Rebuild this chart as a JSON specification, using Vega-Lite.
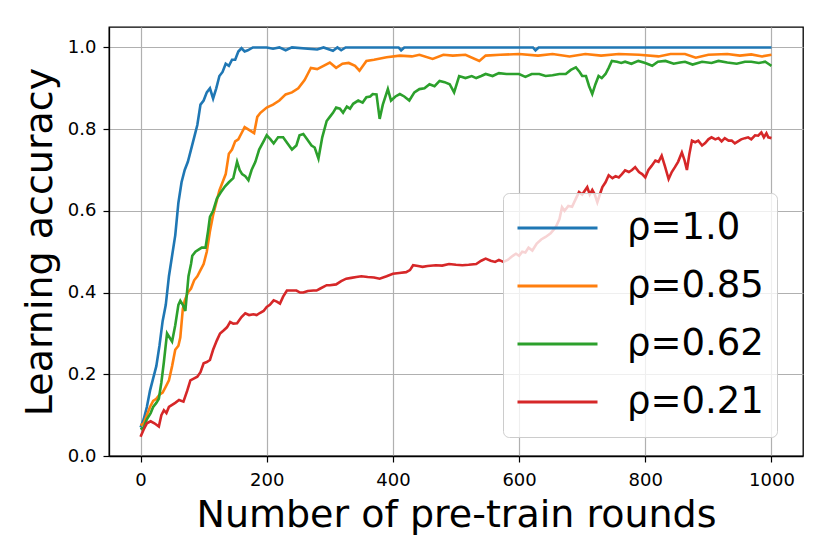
{
  "$schema": "https://vega.github.io/schema/vega-lite/v6.json",
  "autosize": {"type": "none"},
  "padding": {"left": 109, "top": 27, "right": 27, "bottom": 98},
  "width": 694,
  "height": 429,
  "background": "white",
  "view": {"stroke": "#000000", "strokeWidth": 1.3},
  "config": {
    "font": "DejaVu Sans",
    "axis": {
      "labelFont": "DejaVu Sans", "labelFontSize": 18, "labelColor": "black",
      "titleFont": "DejaVu Sans", "titleFontSize": 38, "titleFontWeight": "normal", "titleColor": "black",
      "tickColor": "black", "tickSize": 6, "tickWidth": 1.2,
      "domainColor": "black", "domainWidth": 1.3,
      "gridColor": "#b0b0b0", "gridWidth": 1.2
    }
  },
  "data": {
    "values": [
      {"series": "ρ=1.0", "round": 0, "acc": 0.07},
      {"series": "ρ=1.0", "round": 5, "acc": 0.09},
      {"series": "ρ=1.0", "round": 10, "acc": 0.12},
      {"series": "ρ=1.0", "round": 15, "acc": 0.16},
      {"series": "ρ=1.0", "round": 20, "acc": 0.19},
      {"series": "ρ=1.0", "round": 25, "acc": 0.22},
      {"series": "ρ=1.0", "round": 30, "acc": 0.27},
      {"series": "ρ=1.0", "round": 35, "acc": 0.33},
      {"series": "ρ=1.0", "round": 40, "acc": 0.37},
      {"series": "ρ=1.0", "round": 45, "acc": 0.44},
      {"series": "ρ=1.0", "round": 50, "acc": 0.49},
      {"series": "ρ=1.0", "round": 55, "acc": 0.54},
      {"series": "ρ=1.0", "round": 60, "acc": 0.62},
      {"series": "ρ=1.0", "round": 65, "acc": 0.67},
      {"series": "ρ=1.0", "round": 70, "acc": 0.70},
      {"series": "ρ=1.0", "round": 75, "acc": 0.72},
      {"series": "ρ=1.0", "round": 80, "acc": 0.75},
      {"series": "ρ=1.0", "round": 85, "acc": 0.78},
      {"series": "ρ=1.0", "round": 90, "acc": 0.81},
      {"series": "ρ=1.0", "round": 95, "acc": 0.86},
      {"series": "ρ=1.0", "round": 100, "acc": 0.87},
      {"series": "ρ=1.0", "round": 105, "acc": 0.89},
      {"series": "ρ=1.0", "round": 110, "acc": 0.90},
      {"series": "ρ=1.0", "round": 115, "acc": 0.875},
      {"series": "ρ=1.0", "round": 120, "acc": 0.90},
      {"series": "ρ=1.0", "round": 125, "acc": 0.93},
      {"series": "ρ=1.0", "round": 130, "acc": 0.94},
      {"series": "ρ=1.0", "round": 135, "acc": 0.96},
      {"series": "ρ=1.0", "round": 140, "acc": 0.955},
      {"series": "ρ=1.0", "round": 145, "acc": 0.97},
      {"series": "ρ=1.0", "round": 150, "acc": 0.97},
      {"series": "ρ=1.0", "round": 155, "acc": 0.99},
      {"series": "ρ=1.0", "round": 160, "acc": 0.998},
      {"series": "ρ=1.0", "round": 165, "acc": 0.99},
      {"series": "ρ=1.0", "round": 170, "acc": 0.993},
      {"series": "ρ=1.0", "round": 178, "acc": 1.0},
      {"series": "ρ=1.0", "round": 200, "acc": 1.0},
      {"series": "ρ=1.0", "round": 210, "acc": 0.997},
      {"series": "ρ=1.0", "round": 220, "acc": 1.0},
      {"series": "ρ=1.0", "round": 230, "acc": 0.993},
      {"series": "ρ=1.0", "round": 240, "acc": 1.0},
      {"series": "ρ=1.0", "round": 280, "acc": 0.995},
      {"series": "ρ=1.0", "round": 290, "acc": 1.0},
      {"series": "ρ=1.0", "round": 305, "acc": 0.992},
      {"series": "ρ=1.0", "round": 312, "acc": 1.0},
      {"series": "ρ=1.0", "round": 318, "acc": 0.993},
      {"series": "ρ=1.0", "round": 325, "acc": 1.0},
      {"series": "ρ=1.0", "round": 409, "acc": 1.0},
      {"series": "ρ=1.0", "round": 413, "acc": 0.993},
      {"series": "ρ=1.0", "round": 418, "acc": 1.0},
      {"series": "ρ=1.0", "round": 622, "acc": 1.0},
      {"series": "ρ=1.0", "round": 626, "acc": 0.993},
      {"series": "ρ=1.0", "round": 631, "acc": 1.0},
      {"series": "ρ=1.0", "round": 1000, "acc": 1.0},

      {"series": "ρ=0.85", "round": 0, "acc": 0.075},
      {"series": "ρ=0.85", "round": 5, "acc": 0.08},
      {"series": "ρ=0.85", "round": 10, "acc": 0.10},
      {"series": "ρ=0.85", "round": 15, "acc": 0.12},
      {"series": "ρ=0.85", "round": 20, "acc": 0.135},
      {"series": "ρ=0.85", "round": 25, "acc": 0.14},
      {"series": "ρ=0.85", "round": 30, "acc": 0.15},
      {"series": "ρ=0.85", "round": 35, "acc": 0.155},
      {"series": "ρ=0.85", "round": 40, "acc": 0.17},
      {"series": "ρ=0.85", "round": 45, "acc": 0.185},
      {"series": "ρ=0.85", "round": 50, "acc": 0.22},
      {"series": "ρ=0.85", "round": 55, "acc": 0.26},
      {"series": "ρ=0.85", "round": 60, "acc": 0.27},
      {"series": "ρ=0.85", "round": 63, "acc": 0.29},
      {"series": "ρ=0.85", "round": 67, "acc": 0.36},
      {"series": "ρ=0.85", "round": 70, "acc": 0.38},
      {"series": "ρ=0.85", "round": 75, "acc": 0.40},
      {"series": "ρ=0.85", "round": 80, "acc": 0.41},
      {"series": "ρ=0.85", "round": 85, "acc": 0.43},
      {"series": "ρ=0.85", "round": 90, "acc": 0.44},
      {"series": "ρ=0.85", "round": 95, "acc": 0.455},
      {"series": "ρ=0.85", "round": 100, "acc": 0.47},
      {"series": "ρ=0.85", "round": 105, "acc": 0.50},
      {"series": "ρ=0.85", "round": 110, "acc": 0.55},
      {"series": "ρ=0.85", "round": 115, "acc": 0.59},
      {"series": "ρ=0.85", "round": 120, "acc": 0.62},
      {"series": "ρ=0.85", "round": 125, "acc": 0.65},
      {"series": "ρ=0.85", "round": 130, "acc": 0.67},
      {"series": "ρ=0.85", "round": 135, "acc": 0.69},
      {"series": "ρ=0.85", "round": 140, "acc": 0.74},
      {"series": "ρ=0.85", "round": 145, "acc": 0.75},
      {"series": "ρ=0.85", "round": 150, "acc": 0.77},
      {"series": "ρ=0.85", "round": 155, "acc": 0.775},
      {"series": "ρ=0.85", "round": 160, "acc": 0.79},
      {"series": "ρ=0.85", "round": 165, "acc": 0.805},
      {"series": "ρ=0.85", "round": 170, "acc": 0.80},
      {"series": "ρ=0.85", "round": 175, "acc": 0.795},
      {"series": "ρ=0.85", "round": 180, "acc": 0.79},
      {"series": "ρ=0.85", "round": 185, "acc": 0.83},
      {"series": "ρ=0.85", "round": 190, "acc": 0.84},
      {"series": "ρ=0.85", "round": 200, "acc": 0.853},
      {"series": "ρ=0.85", "round": 210, "acc": 0.86},
      {"series": "ρ=0.85", "round": 220, "acc": 0.87},
      {"series": "ρ=0.85", "round": 230, "acc": 0.885},
      {"series": "ρ=0.85", "round": 240, "acc": 0.89},
      {"series": "ρ=0.85", "round": 250, "acc": 0.90},
      {"series": "ρ=0.85", "round": 260, "acc": 0.92},
      {"series": "ρ=0.85", "round": 265, "acc": 0.935},
      {"series": "ρ=0.85", "round": 270, "acc": 0.95},
      {"series": "ρ=0.85", "round": 280, "acc": 0.947},
      {"series": "ρ=0.85", "round": 290, "acc": 0.955},
      {"series": "ρ=0.85", "round": 300, "acc": 0.963},
      {"series": "ρ=0.85", "round": 310, "acc": 0.95},
      {"series": "ρ=0.85", "round": 320, "acc": 0.96},
      {"series": "ρ=0.85", "round": 330, "acc": 0.962},
      {"series": "ρ=0.85", "round": 340, "acc": 0.955},
      {"series": "ρ=0.85", "round": 347, "acc": 0.943},
      {"series": "ρ=0.85", "round": 358, "acc": 0.967},
      {"series": "ρ=0.85", "round": 370, "acc": 0.97},
      {"series": "ρ=0.85", "round": 390, "acc": 0.976},
      {"series": "ρ=0.85", "round": 411, "acc": 0.98},
      {"series": "ρ=0.85", "round": 430, "acc": 0.978},
      {"series": "ρ=0.85", "round": 442, "acc": 0.982},
      {"series": "ρ=0.85", "round": 463, "acc": 0.972},
      {"series": "ρ=0.85", "round": 480, "acc": 0.982},
      {"series": "ρ=0.85", "round": 495, "acc": 0.98},
      {"series": "ρ=0.85", "round": 515, "acc": 0.982},
      {"series": "ρ=0.85", "round": 537, "acc": 0.967},
      {"series": "ρ=0.85", "round": 547, "acc": 0.98},
      {"series": "ρ=0.85", "round": 570, "acc": 0.982},
      {"series": "ρ=0.85", "round": 600, "acc": 0.984},
      {"series": "ρ=0.85", "round": 630, "acc": 0.98},
      {"series": "ρ=0.85", "round": 653, "acc": 0.984},
      {"series": "ρ=0.85", "round": 680, "acc": 0.978},
      {"series": "ρ=0.85", "round": 705, "acc": 0.984},
      {"series": "ρ=0.85", "round": 730, "acc": 0.98},
      {"series": "ρ=0.85", "round": 758, "acc": 0.984},
      {"series": "ρ=0.85", "round": 790, "acc": 0.982},
      {"series": "ρ=0.85", "round": 821, "acc": 0.978},
      {"series": "ρ=0.85", "round": 840, "acc": 0.984},
      {"series": "ρ=0.85", "round": 863, "acc": 0.984},
      {"series": "ρ=0.85", "round": 880, "acc": 0.975},
      {"series": "ρ=0.85", "round": 900, "acc": 0.982},
      {"series": "ρ=0.85", "round": 930, "acc": 0.984},
      {"series": "ρ=0.85", "round": 950, "acc": 0.98},
      {"series": "ρ=0.85", "round": 968, "acc": 0.983},
      {"series": "ρ=0.85", "round": 985, "acc": 0.978},
      {"series": "ρ=0.85", "round": 1000, "acc": 0.982},

      {"series": "ρ=0.62", "round": 0, "acc": 0.065},
      {"series": "ρ=0.62", "round": 5, "acc": 0.07},
      {"series": "ρ=0.62", "round": 10, "acc": 0.09},
      {"series": "ρ=0.62", "round": 16, "acc": 0.105},
      {"series": "ρ=0.62", "round": 20, "acc": 0.12},
      {"series": "ρ=0.62", "round": 25, "acc": 0.13},
      {"series": "ρ=0.62", "round": 29, "acc": 0.14},
      {"series": "ρ=0.62", "round": 33, "acc": 0.18},
      {"series": "ρ=0.62", "round": 37, "acc": 0.23},
      {"series": "ρ=0.62", "round": 42, "acc": 0.30},
      {"series": "ρ=0.62", "round": 46, "acc": 0.29},
      {"series": "ρ=0.62", "round": 50, "acc": 0.28},
      {"series": "ρ=0.62", "round": 55, "acc": 0.32},
      {"series": "ρ=0.62", "round": 60, "acc": 0.37},
      {"series": "ρ=0.62", "round": 63, "acc": 0.38},
      {"series": "ρ=0.62", "round": 67, "acc": 0.37},
      {"series": "ρ=0.62", "round": 71, "acc": 0.355},
      {"series": "ρ=0.62", "round": 76, "acc": 0.44},
      {"series": "ρ=0.62", "round": 80, "acc": 0.47},
      {"series": "ρ=0.62", "round": 82, "acc": 0.49},
      {"series": "ρ=0.62", "round": 87, "acc": 0.50},
      {"series": "ρ=0.62", "round": 92, "acc": 0.505},
      {"series": "ρ=0.62", "round": 97, "acc": 0.51},
      {"series": "ρ=0.62", "round": 103, "acc": 0.51},
      {"series": "ρ=0.62", "round": 107, "acc": 0.55},
      {"series": "ρ=0.62", "round": 110, "acc": 0.585},
      {"series": "ρ=0.62", "round": 115, "acc": 0.60},
      {"series": "ρ=0.62", "round": 121, "acc": 0.63},
      {"series": "ρ=0.62", "round": 127, "acc": 0.645},
      {"series": "ρ=0.62", "round": 134, "acc": 0.66},
      {"series": "ρ=0.62", "round": 140, "acc": 0.67},
      {"series": "ρ=0.62", "round": 147, "acc": 0.68},
      {"series": "ρ=0.62", "round": 150, "acc": 0.70},
      {"series": "ρ=0.62", "round": 153, "acc": 0.72},
      {"series": "ρ=0.62", "round": 157, "acc": 0.70},
      {"series": "ρ=0.62", "round": 161, "acc": 0.69},
      {"series": "ρ=0.62", "round": 166, "acc": 0.685},
      {"series": "ρ=0.62", "round": 171, "acc": 0.675},
      {"series": "ρ=0.62", "round": 176, "acc": 0.70},
      {"series": "ρ=0.62", "round": 182, "acc": 0.72},
      {"series": "ρ=0.62", "round": 188, "acc": 0.75},
      {"series": "ρ=0.62", "round": 195, "acc": 0.77},
      {"series": "ρ=0.62", "round": 200, "acc": 0.785},
      {"series": "ρ=0.62", "round": 206, "acc": 0.775},
      {"series": "ρ=0.62", "round": 211, "acc": 0.765},
      {"series": "ρ=0.62", "round": 218, "acc": 0.78},
      {"series": "ρ=0.62", "round": 226, "acc": 0.78},
      {"series": "ρ=0.62", "round": 233, "acc": 0.765},
      {"series": "ρ=0.62", "round": 240, "acc": 0.75},
      {"series": "ρ=0.62", "round": 247, "acc": 0.76},
      {"series": "ρ=0.62", "round": 252, "acc": 0.785},
      {"series": "ρ=0.62", "round": 258, "acc": 0.788},
      {"series": "ρ=0.62", "round": 264, "acc": 0.775},
      {"series": "ρ=0.62", "round": 271, "acc": 0.76},
      {"series": "ρ=0.62", "round": 276, "acc": 0.755},
      {"series": "ρ=0.62", "round": 282, "acc": 0.728},
      {"series": "ρ=0.62", "round": 288, "acc": 0.78},
      {"series": "ρ=0.62", "round": 295, "acc": 0.82},
      {"series": "ρ=0.62", "round": 300, "acc": 0.83},
      {"series": "ρ=0.62", "round": 305, "acc": 0.84},
      {"series": "ρ=0.62", "round": 310, "acc": 0.853},
      {"series": "ρ=0.62", "round": 316, "acc": 0.85},
      {"series": "ρ=0.62", "round": 321, "acc": 0.84},
      {"series": "ρ=0.62", "round": 327, "acc": 0.855},
      {"series": "ρ=0.62", "round": 332, "acc": 0.85},
      {"series": "ρ=0.62", "round": 337, "acc": 0.862},
      {"series": "ρ=0.62", "round": 345, "acc": 0.87},
      {"series": "ρ=0.62", "round": 352, "acc": 0.865},
      {"series": "ρ=0.62", "round": 358, "acc": 0.878},
      {"series": "ρ=0.62", "round": 364, "acc": 0.88},
      {"series": "ρ=0.62", "round": 368, "acc": 0.886},
      {"series": "ρ=0.62", "round": 374, "acc": 0.885},
      {"series": "ρ=0.62", "round": 379, "acc": 0.825},
      {"series": "ρ=0.62", "round": 384, "acc": 0.86},
      {"series": "ρ=0.62", "round": 392, "acc": 0.898},
      {"series": "ρ=0.62", "round": 397, "acc": 0.87},
      {"series": "ρ=0.62", "round": 404, "acc": 0.88},
      {"series": "ρ=0.62", "round": 411, "acc": 0.886},
      {"series": "ρ=0.62", "round": 418, "acc": 0.88},
      {"series": "ρ=0.62", "round": 426, "acc": 0.87},
      {"series": "ρ=0.62", "round": 434, "acc": 0.89},
      {"series": "ρ=0.62", "round": 442, "acc": 0.898},
      {"series": "ρ=0.62", "round": 450, "acc": 0.90},
      {"series": "ρ=0.62", "round": 458, "acc": 0.91},
      {"series": "ρ=0.62", "round": 466, "acc": 0.905},
      {"series": "ρ=0.62", "round": 474, "acc": 0.918},
      {"series": "ρ=0.62", "round": 482, "acc": 0.915},
      {"series": "ρ=0.62", "round": 490, "acc": 0.91},
      {"series": "ρ=0.62", "round": 497, "acc": 0.89},
      {"series": "ρ=0.62", "round": 505, "acc": 0.93},
      {"series": "ρ=0.62", "round": 515, "acc": 0.925},
      {"series": "ρ=0.62", "round": 525, "acc": 0.93},
      {"series": "ρ=0.62", "round": 532, "acc": 0.925},
      {"series": "ρ=0.62", "round": 540, "acc": 0.93},
      {"series": "ρ=0.62", "round": 547, "acc": 0.935},
      {"series": "ρ=0.62", "round": 558, "acc": 0.93},
      {"series": "ρ=0.62", "round": 568, "acc": 0.937},
      {"series": "ρ=0.62", "round": 580, "acc": 0.935},
      {"series": "ρ=0.62", "round": 590, "acc": 0.935},
      {"series": "ρ=0.62", "round": 600, "acc": 0.935},
      {"series": "ρ=0.62", "round": 610, "acc": 0.928},
      {"series": "ρ=0.62", "round": 620, "acc": 0.935},
      {"series": "ρ=0.62", "round": 632, "acc": 0.935},
      {"series": "ρ=0.62", "round": 642, "acc": 0.93},
      {"series": "ρ=0.62", "round": 653, "acc": 0.932},
      {"series": "ρ=0.62", "round": 664, "acc": 0.935},
      {"series": "ρ=0.62", "round": 674, "acc": 0.935},
      {"series": "ρ=0.62", "round": 682, "acc": 0.945},
      {"series": "ρ=0.62", "round": 690, "acc": 0.951},
      {"series": "ρ=0.62", "round": 696, "acc": 0.94},
      {"series": "ρ=0.62", "round": 700, "acc": 0.93},
      {"series": "ρ=0.62", "round": 706, "acc": 0.93},
      {"series": "ρ=0.62", "round": 711, "acc": 0.905},
      {"series": "ρ=0.62", "round": 716, "acc": 0.886},
      {"series": "ρ=0.62", "round": 721, "acc": 0.91},
      {"series": "ρ=0.62", "round": 726, "acc": 0.93},
      {"series": "ρ=0.62", "round": 731, "acc": 0.925},
      {"series": "ρ=0.62", "round": 737, "acc": 0.935},
      {"series": "ρ=0.62", "round": 742, "acc": 0.95},
      {"series": "ρ=0.62", "round": 747, "acc": 0.967},
      {"series": "ρ=0.62", "round": 755, "acc": 0.965},
      {"series": "ρ=0.62", "round": 762, "acc": 0.962},
      {"series": "ρ=0.62", "round": 768, "acc": 0.965},
      {"series": "ρ=0.62", "round": 778, "acc": 0.96},
      {"series": "ρ=0.62", "round": 789, "acc": 0.967},
      {"series": "ρ=0.62", "round": 800, "acc": 0.962},
      {"series": "ρ=0.62", "round": 811, "acc": 0.955},
      {"series": "ρ=0.62", "round": 820, "acc": 0.965},
      {"series": "ρ=0.62", "round": 832, "acc": 0.967},
      {"series": "ρ=0.62", "round": 845, "acc": 0.96},
      {"series": "ρ=0.62", "round": 855, "acc": 0.963},
      {"series": "ρ=0.62", "round": 863, "acc": 0.965},
      {"series": "ρ=0.62", "round": 875, "acc": 0.958},
      {"series": "ρ=0.62", "round": 890, "acc": 0.965},
      {"series": "ρ=0.62", "round": 905, "acc": 0.962},
      {"series": "ρ=0.62", "round": 916, "acc": 0.967},
      {"series": "ρ=0.62", "round": 930, "acc": 0.963},
      {"series": "ρ=0.62", "round": 945, "acc": 0.96},
      {"series": "ρ=0.62", "round": 958, "acc": 0.965},
      {"series": "ρ=0.62", "round": 968, "acc": 0.965},
      {"series": "ρ=0.62", "round": 980, "acc": 0.962},
      {"series": "ρ=0.62", "round": 990, "acc": 0.965},
      {"series": "ρ=0.62", "round": 995, "acc": 0.96},
      {"series": "ρ=0.62", "round": 1000, "acc": 0.955},

      {"series": "ρ=0.21", "round": 0, "acc": 0.047},
      {"series": "ρ=0.21", "round": 5, "acc": 0.065},
      {"series": "ρ=0.21", "round": 10, "acc": 0.08},
      {"series": "ρ=0.21", "round": 16, "acc": 0.085},
      {"series": "ρ=0.21", "round": 22, "acc": 0.08},
      {"series": "ρ=0.21", "round": 29, "acc": 0.072},
      {"series": "ρ=0.21", "round": 33, "acc": 0.10},
      {"series": "ρ=0.21", "round": 37, "acc": 0.112},
      {"series": "ρ=0.21", "round": 41, "acc": 0.105},
      {"series": "ρ=0.21", "round": 45, "acc": 0.12},
      {"series": "ρ=0.21", "round": 50, "acc": 0.125},
      {"series": "ρ=0.21", "round": 55, "acc": 0.13},
      {"series": "ρ=0.21", "round": 61, "acc": 0.137},
      {"series": "ρ=0.21", "round": 68, "acc": 0.133},
      {"series": "ρ=0.21", "round": 74, "acc": 0.16},
      {"series": "ρ=0.21", "round": 79, "acc": 0.185},
      {"series": "ρ=0.21", "round": 85, "acc": 0.19},
      {"series": "ρ=0.21", "round": 90, "acc": 0.194},
      {"series": "ρ=0.21", "round": 95, "acc": 0.205},
      {"series": "ρ=0.21", "round": 100, "acc": 0.227},
      {"series": "ρ=0.21", "round": 105, "acc": 0.23},
      {"series": "ρ=0.21", "round": 110, "acc": 0.235},
      {"series": "ρ=0.21", "round": 115, "acc": 0.26},
      {"series": "ρ=0.21", "round": 121, "acc": 0.283},
      {"series": "ρ=0.21", "round": 126, "acc": 0.30},
      {"series": "ρ=0.21", "round": 132, "acc": 0.308},
      {"series": "ρ=0.21", "round": 137, "acc": 0.315},
      {"series": "ρ=0.21", "round": 142, "acc": 0.328},
      {"series": "ρ=0.21", "round": 147, "acc": 0.324},
      {"series": "ρ=0.21", "round": 153, "acc": 0.325},
      {"series": "ρ=0.21", "round": 160, "acc": 0.34},
      {"series": "ρ=0.21", "round": 166, "acc": 0.349},
      {"series": "ρ=0.21", "round": 172, "acc": 0.345},
      {"series": "ρ=0.21", "round": 179, "acc": 0.347},
      {"series": "ρ=0.21", "round": 184, "acc": 0.345},
      {"series": "ρ=0.21", "round": 189, "acc": 0.35},
      {"series": "ρ=0.21", "round": 195, "acc": 0.355},
      {"series": "ρ=0.21", "round": 200, "acc": 0.365},
      {"series": "ρ=0.21", "round": 205, "acc": 0.37},
      {"series": "ρ=0.21", "round": 211, "acc": 0.381},
      {"series": "ρ=0.21", "round": 216, "acc": 0.378},
      {"series": "ρ=0.21", "round": 221, "acc": 0.373},
      {"series": "ρ=0.21", "round": 226, "acc": 0.39},
      {"series": "ρ=0.21", "round": 232, "acc": 0.405},
      {"series": "ρ=0.21", "round": 240, "acc": 0.405},
      {"series": "ρ=0.21", "round": 247, "acc": 0.405},
      {"series": "ρ=0.21", "round": 253, "acc": 0.40},
      {"series": "ρ=0.21", "round": 258, "acc": 0.40},
      {"series": "ρ=0.21", "round": 265, "acc": 0.404},
      {"series": "ρ=0.21", "round": 274, "acc": 0.405},
      {"series": "ρ=0.21", "round": 279, "acc": 0.405},
      {"series": "ρ=0.21", "round": 285, "acc": 0.41},
      {"series": "ρ=0.21", "round": 295, "acc": 0.418},
      {"series": "ρ=0.21", "round": 300, "acc": 0.418},
      {"series": "ρ=0.21", "round": 310, "acc": 0.42},
      {"series": "ρ=0.21", "round": 318, "acc": 0.428},
      {"series": "ρ=0.21", "round": 326, "acc": 0.434},
      {"series": "ρ=0.21", "round": 334, "acc": 0.436},
      {"series": "ρ=0.21", "round": 342, "acc": 0.438},
      {"series": "ρ=0.21", "round": 350, "acc": 0.44},
      {"series": "ρ=0.21", "round": 360, "acc": 0.438},
      {"series": "ρ=0.21", "round": 370, "acc": 0.437},
      {"series": "ρ=0.21", "round": 379, "acc": 0.434},
      {"series": "ρ=0.21", "round": 390, "acc": 0.44},
      {"series": "ρ=0.21", "round": 400, "acc": 0.446},
      {"series": "ρ=0.21", "round": 410, "acc": 0.448},
      {"series": "ρ=0.21", "round": 421, "acc": 0.45},
      {"series": "ρ=0.21", "round": 427, "acc": 0.455},
      {"series": "ρ=0.21", "round": 432, "acc": 0.467},
      {"series": "ρ=0.21", "round": 440, "acc": 0.465},
      {"series": "ρ=0.21", "round": 447, "acc": 0.463},
      {"series": "ρ=0.21", "round": 455, "acc": 0.465},
      {"series": "ρ=0.21", "round": 468, "acc": 0.467},
      {"series": "ρ=0.21", "round": 478, "acc": 0.466},
      {"series": "ρ=0.21", "round": 489, "acc": 0.47},
      {"series": "ρ=0.21", "round": 500, "acc": 0.468},
      {"series": "ρ=0.21", "round": 510, "acc": 0.467},
      {"series": "ρ=0.21", "round": 520, "acc": 0.468},
      {"series": "ρ=0.21", "round": 532, "acc": 0.47},
      {"series": "ρ=0.21", "round": 540, "acc": 0.478},
      {"series": "ρ=0.21", "round": 547, "acc": 0.483},
      {"series": "ρ=0.21", "round": 555, "acc": 0.478},
      {"series": "ρ=0.21", "round": 562, "acc": 0.475},
      {"series": "ρ=0.21", "round": 568, "acc": 0.48},
      {"series": "ρ=0.21", "round": 575, "acc": 0.475},
      {"series": "ρ=0.21", "round": 582, "acc": 0.48},
      {"series": "ρ=0.21", "round": 590, "acc": 0.49},
      {"series": "ρ=0.21", "round": 595, "acc": 0.495},
      {"series": "ρ=0.21", "round": 600, "acc": 0.49},
      {"series": "ρ=0.21", "round": 605, "acc": 0.50},
      {"series": "ρ=0.21", "round": 610, "acc": 0.498},
      {"series": "ρ=0.21", "round": 615, "acc": 0.51},
      {"series": "ρ=0.21", "round": 621, "acc": 0.503},
      {"series": "ρ=0.21", "round": 628, "acc": 0.52},
      {"series": "ρ=0.21", "round": 635, "acc": 0.53},
      {"series": "ρ=0.21", "round": 642, "acc": 0.536},
      {"series": "ρ=0.21", "round": 650, "acc": 0.545},
      {"series": "ρ=0.21", "round": 658, "acc": 0.56},
      {"series": "ρ=0.21", "round": 664, "acc": 0.58},
      {"series": "ρ=0.21", "round": 668, "acc": 0.609},
      {"series": "ρ=0.21", "round": 672, "acc": 0.60},
      {"series": "ρ=0.21", "round": 678, "acc": 0.612},
      {"series": "ρ=0.21", "round": 684, "acc": 0.61},
      {"series": "ρ=0.21", "round": 690, "acc": 0.63},
      {"series": "ρ=0.21", "round": 695, "acc": 0.646},
      {"series": "ρ=0.21", "round": 700, "acc": 0.64},
      {"series": "ρ=0.21", "round": 708, "acc": 0.658},
      {"series": "ρ=0.21", "round": 712, "acc": 0.64},
      {"series": "ρ=0.21", "round": 716, "acc": 0.651},
      {"series": "ρ=0.21", "round": 720, "acc": 0.64},
      {"series": "ρ=0.21", "round": 724, "acc": 0.621},
      {"series": "ρ=0.21", "round": 728, "acc": 0.64},
      {"series": "ρ=0.21", "round": 732, "acc": 0.658},
      {"series": "ρ=0.21", "round": 737, "acc": 0.67},
      {"series": "ρ=0.21", "round": 742, "acc": 0.687},
      {"series": "ρ=0.21", "round": 748, "acc": 0.68},
      {"series": "ρ=0.21", "round": 753, "acc": 0.685},
      {"series": "ρ=0.21", "round": 758, "acc": 0.682},
      {"series": "ρ=0.21", "round": 763, "acc": 0.69},
      {"series": "ρ=0.21", "round": 768, "acc": 0.699},
      {"series": "ρ=0.21", "round": 774, "acc": 0.695},
      {"series": "ρ=0.21", "round": 779, "acc": 0.70},
      {"series": "ρ=0.21", "round": 784, "acc": 0.707},
      {"series": "ρ=0.21", "round": 790, "acc": 0.695},
      {"series": "ρ=0.21", "round": 795, "acc": 0.69},
      {"series": "ρ=0.21", "round": 800, "acc": 0.682},
      {"series": "ρ=0.21", "round": 805, "acc": 0.70},
      {"series": "ρ=0.21", "round": 810, "acc": 0.71},
      {"series": "ρ=0.21", "round": 816, "acc": 0.723},
      {"series": "ρ=0.21", "round": 821, "acc": 0.72},
      {"series": "ρ=0.21", "round": 826, "acc": 0.735},
      {"series": "ρ=0.21", "round": 831, "acc": 0.71},
      {"series": "ρ=0.21", "round": 837, "acc": 0.678},
      {"series": "ρ=0.21", "round": 842, "acc": 0.695},
      {"series": "ρ=0.21", "round": 847, "acc": 0.707},
      {"series": "ρ=0.21", "round": 852, "acc": 0.72},
      {"series": "ρ=0.21", "round": 858, "acc": 0.743},
      {"series": "ρ=0.21", "round": 862, "acc": 0.725},
      {"series": "ρ=0.21", "round": 866, "acc": 0.70},
      {"series": "ρ=0.21", "round": 870, "acc": 0.74},
      {"series": "ρ=0.21", "round": 874, "acc": 0.772},
      {"series": "ρ=0.21", "round": 879, "acc": 0.768},
      {"series": "ρ=0.21", "round": 884, "acc": 0.772},
      {"series": "ρ=0.21", "round": 890, "acc": 0.76},
      {"series": "ρ=0.21", "round": 895, "acc": 0.766},
      {"series": "ρ=0.21", "round": 900, "acc": 0.775},
      {"series": "ρ=0.21", "round": 905, "acc": 0.78},
      {"series": "ρ=0.21", "round": 911, "acc": 0.775},
      {"series": "ρ=0.21", "round": 916, "acc": 0.778},
      {"series": "ρ=0.21", "round": 921, "acc": 0.77},
      {"series": "ρ=0.21", "round": 926, "acc": 0.778},
      {"series": "ρ=0.21", "round": 932, "acc": 0.772},
      {"series": "ρ=0.21", "round": 937, "acc": 0.772},
      {"series": "ρ=0.21", "round": 942, "acc": 0.765},
      {"series": "ρ=0.21", "round": 947, "acc": 0.77},
      {"series": "ρ=0.21", "round": 952, "acc": 0.775},
      {"series": "ρ=0.21", "round": 958, "acc": 0.778},
      {"series": "ρ=0.21", "round": 963, "acc": 0.78},
      {"series": "ρ=0.21", "round": 968, "acc": 0.775},
      {"series": "ρ=0.21", "round": 974, "acc": 0.785},
      {"series": "ρ=0.21", "round": 979, "acc": 0.784},
      {"series": "ρ=0.21", "round": 984, "acc": 0.792},
      {"series": "ρ=0.21", "round": 988, "acc": 0.78},
      {"series": "ρ=0.21", "round": 992, "acc": 0.79},
      {"series": "ρ=0.21", "round": 995, "acc": 0.78},
      {"series": "ρ=0.21", "round": 1000, "acc": 0.778}
    ]
  },
  "mark": {"type": "line", "strokeWidth": 2.6, "clip": true},
  "encoding": {
    "x": {
      "field": "round", "type": "quantitative",
      "scale": {"domain": [-50, 1050], "nice": false, "zero": false},
      "axis": {"values": [0, 200, 400, 600, 800, 1000], "format": "d", "labelPadding": 9, "titlePadding": 7, "title": "Number of pre-train rounds"}
    },
    "y": {
      "field": "acc", "type": "quantitative",
      "scale": {"domain": [0, 1.05], "nice": false},
      "axis": {"values": [0, 0.2, 0.4, 0.6, 0.8, 1.0], "format": ".1f", "labelPadding": 7, "titlePadding": 8, "title": "Learning accuracy"}
    },
    "color": {
      "field": "series", "type": "nominal",
      "scale": {
        "domain": ["ρ=1.0", "ρ=0.85", "ρ=0.62", "ρ=0.21"],
        "range": ["#1f77b4", "#ff7f0e", "#2ca02c", "#d62728"]
      },
      "legend": {
        "title": null,
        "orient": "none",
        "legendX": 394,
        "legendY": 166,
        "symbolType": "stroke",
        "symbolSize": 6400,
        "symbolStrokeWidth": 3,
        "clipHeight": 44,
        "rowPadding": 14,
        "padding": 13,
        "labelOffset": 28,
        "labelFont": "DejaVu Sans",
        "labelFontSize": 37,
        "labelColor": "black",
        "fillColor": "rgba(255,255,255,0.8)",
        "strokeColor": "#cccccc",
        "cornerRadius": 6
      }
    }
  }
}
